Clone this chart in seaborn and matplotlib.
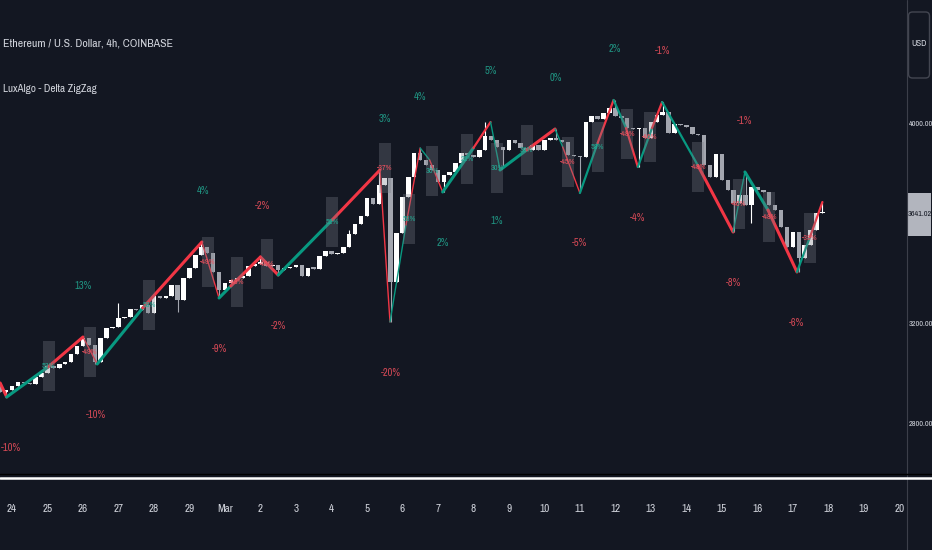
import matplotlib
matplotlib.use("Agg")
import matplotlib.pyplot as plt
import matplotlib.font_manager as fm
from matplotlib.patches import Rectangle, FancyBboxPatch
from matplotlib.lines import Line2D
import numpy as np
import seaborn as sns

# ---- data: ETH/USD 4h candles, first bar two bars before Feb 24 00:00 ----
first_bar = -2
first_open = 2960
closes = [
    2924, 2932, 2948, 2964, 2960, 2956, 2984, 3000, 3028, 3020,
    3036, 3044, 3076, 3108, 3140, 3112, 3044, 3140, 3180, 3184,
    3220, 3224, 3256, 3252, 3272, 3240, 3308, 3300, 3308, 3352,
    3292, 3380, 3420, 3472, 3504, 3480, 3404, 3332, 3360, 3372,
    3380, 3388, 3428, 3436, 3444, 3428, 3432, 3412, 3420, 3424,
    3432, 3388, 3420, 3418, 3468, 3488, 3476, 3480, 3504, 3556,
    3596, 3628, 3700, 3676, 3752, 3780, 3364, 3560, 3704, 3784,
    3880, 3852, 3832, 3812, 3764, 3792, 3804, 3840, 3880, 3872,
    3864, 3892, 3948, 3932, 3904, 3892, 3932, 3920, 3900, 3892,
    3912, 3892, 3932, 3940, 3932, 3924, 3872, 3868, 3864, 4004,
    4028, 4016, 4040, 4060, 4028, 4020, 3980, 3976, 3980, 3940,
    4004, 4032, 4044, 3960, 3996, 3992, 3984, 3956, 3952, 3832,
    3784, 3876, 3772, 3732, 3680, 3712, 3672, 3744, 3732, 3724,
    3672, 3652, 3584, 3504, 3564, 3460, 3512, 3572, 3640, 3641.02,
]
wick_high = {12: 3148, 18: 3280, 32: 3524, 42: 3464, 57: 3572, 62: 3812,
             69: 3900, 80: 4004, 92: 3976, 102: 4092, 110: 4084, 124: 3804, 137: 3684}
wick_low = {-1: 2904, 14: 3036, 28: 3244, 35: 3300, 45: 3392, 64: 3204, 73: 3724,
            83: 3824, 96: 3724, 106: 3824, 122: 3564, 125: 3600, 133: 3404}

# zigzag vertices (bar index, price), sign of delta and strength per segment
zz_i = [-2, -0.9, 6.1, 12, 14.4, 22.1, 32.1, 35, 37, 42, 45, 54.2, 62.2, 63.9, 66.6,
        69, 70.6, 72.8, 78, 80.9, 82.5, 87, 91.8, 93.1, 96, 99, 101.7, 103.8, 105.8,
        108.2, 109.9, 116, 121.9, 123.9, 127.8, 132.7, 134.9, 137]
zz_p = [2960, 2904, 3024, 3144, 3036, 3260, 3524, 3300, 3348, 3464, 3392, 3614, 3812,
        3204, 3592, 3900, 3852, 3724, 3900, 4004, 3812, 3892, 3976, 3904, 3720, 3920,
        4092, 3980, 3824, 3980, 4084, 3828, 3564, 3804, 3652, 3404, 3544, 3684]
seg_sign = [-1, 1, -1, -1, 1, -1, -1, 1, -1, -1, 1, -1, -1, 1, -1, 1, -1, 1, -1,
            1, 1, -1, 1, -1, 1, -1, 1, -1, 1, -1, 1, -1, 1, 1, -1, 1, -1]
seg_strength = [3, 3, 3, 1, 3, 3, 1, 3, 3, 3, 3, 3, 1, 1, 1, 1, 1, 3, 2,
                1, 3, 3, 1, 1, 2, 2, 2, 2, 2, 2, 2, 3, 1, 3, 3, 2, 2]

# delta boxes
box_i = [6.2, 13.2, 23.2, 33.1, 38, 43.1, 54.1, 63, 67.1, 71, 76.9, 82, 87, 94, 99,
         104, 107.8, 116, 122.9, 128, 134.9]
box_p = [3028, 3084, 3272, 3444, 3364, 3436, 3604, 3820, 3616, 3808, 3856, 3820, 3892,
         3844, 3904, 3956, 3944, 3824, 3676, 3624, 3540]
box_txt = ["53%", "-49%", "58%", "-49%", "-48%", "-46%", "52%", "-37%", "58%", "30%",
           "22%", "30%", "36%", "-45%", "58%", "-48%", "-46%", "-48%", "-46%", "-48%", "-38%"]

# swing labels (bar index, pivot price, text, above pivot?)
lab_i = [-0.9, 12, 14.2, 32.3, 35, 42.3, 45, 63, 64, 69, 72.8, 81, 82, 92, 96, 101.9,
         105.8, 109.9, 121.9, 123.9, 132.7]
lab_p = [2904, 3144, 3036, 3524, 3300, 3464, 3392, 3812, 3204, 3900, 3724, 4004, 3812,
         3976, 3724, 4092, 3824, 4084, 3564, 3804, 3404]
lab_txt = ["-10%", "13%", "-10%", "4%", "-9%", "-2%", "-2%", "3%", "-20%", "4%", "2%",
           "5%", "1%", "0%", "-5%", "2%", "-4%", "-1%", "-8%", "-1%", "-6%"]
lab_above = [False, True] * 10 + [False]

day_labels = ["24", "25", "26", "27", "28", "29", "Mar", "2", "3", "4", "5", "6", "7",
              "8", "9", "10", "11", "12", "13", "14", "15", "16", "17", "18", "19", "20"]
price_ticks = [2800, 3200, 4000]
last_price = 3641.02

# ---- style ----
BG = "#131722"
TXT = "#d1d4dc"
UP_LINE, DN_LINE = "#089981", "#f23645"
UP_TXT, DN_TXT = "#22ab94", "#f7525f"

sns.set_theme(style="dark", rc={"axes.facecolor": BG, "figure.facecolor": BG,
                                "savefig.facecolor": BG})
narrow = [f.name for f in fm.fontManager.ttflist if "Narrow" in f.name or "Condensed" in f.name]
plt.rcParams["font.family"] = narrow[:1] + ["DejaVu Sans"]
plt.rcParams["font.stretch"] = "condensed"

W, H = 932, 550
fig = plt.figure(figsize=(W / 100, H / 100), dpi=100)
ax = fig.add_axes([0, (H - 472) / H, 907 / W, 472 / H])
ax.set_facecolor(BG)

# candles
xs = np.arange(len(closes)) + first_bar
cl = np.array(closes, dtype=float)
op = np.r_[first_open, cl[:-1]]
hi = np.maximum(op, cl)
lo = np.minimum(op, cl)
for k, v in wick_high.items():
    hi[k - first_bar] = max(hi[k - first_bar], v)
for k, v in wick_low.items():
    lo[k - first_bar] = min(lo[k - first_bar], v)
col = np.where(cl >= op, "#ffffff", "#a3a6af")
ax.vlines(xs, lo, hi, colors=col, lw=0.8, zorder=2)
ax.bar(xs, np.maximum(np.abs(cl - op), 6), bottom=np.minimum(op, cl), width=0.76,
       color=col, lw=0, zorder=3)

# zigzag
lw_map = {1: 1.0, 2: 1.6, 3: 2.2}
for k in range(len(zz_i) - 1):
    ax.plot(zz_i[k:k + 2], zz_p[k:k + 2], color=UP_LINE if seg_sign[k] > 0 else DN_LINE,
            lw=lw_map[seg_strength[k]], solid_capstyle="round", zorder=4)

# delta boxes
for bi, bp, bt in zip(box_i, box_p, box_txt):
    ax.add_patch(Rectangle((bi - 1.02, bp - 100), 2.05, 200, facecolor="#787b86",
                           alpha=0.32, lw=0, zorder=5))
    ax.text(bi, bp, bt, ha="center", va="center", fontsize=5.8,
            color=DN_TXT if bt.startswith("-") else UP_TXT, zorder=6)

# swing labels
for li, lp, lt, la in zip(lab_i, lab_p, lab_txt, lab_above):
    ax.annotate(lt, (li, lp), xytext=(0, 37 if la else -37), textcoords="offset points",
                ha="center", va="center", fontsize=7.5, alpha=0.85,
                color=DN_TXT if lt.startswith("-") else UP_TXT, annotation_clip=False)
# keep the first label fully inside the left edge
ax.texts[-len(lab_txt)].set_horizontalalignment("left")
ax.texts[-len(lab_txt)].set_position((-4, -37))

ax.set_xlim(-2.03, 151.3)
ax.set_ylim(2604, 4492)
ax.set_xticks(np.arange(len(day_labels)) * 6)
ax.set_xticklabels(day_labels)
ax.tick_params(axis="x", length=0, pad=23, colors=TXT, labelsize=8)
ax.yaxis.tick_right()
ax.set_yticks(price_ticks)
ax.set_yticklabels([f"{v:.2f}" for v in price_ticks])
ax.tick_params(axis="y", length=0, pad=1.2, colors=TXT, labelsize=5.8)
ax.grid(False)
for s in ax.spines.values():
    s.set_visible(False)

# frame lines
fig.add_artist(Line2D([907 / W] * 2, [0, 1], color="#3c3f4a", lw=0.8))
fig.add_artist(Line2D([0, 1], [1 - 474 / H] * 2, color="#000000", lw=1.0))
fig.add_artist(Line2D([0, 1], [1 - 477.5 / H] * 2, color="#ffffff", lw=1.8))

# currency button and last price tag
fig.add_artist(FancyBboxPatch((9.085, (H - 78) / 100), 0.21, 0.66,
                              boxstyle="round,pad=0,rounding_size=0.04",
                              transform=fig.dpi_scale_trans, facecolor=BG,
                              edgecolor="#434651", lw=1))
fig.text(919.5 / W, 1 - 44 / H, "USD", ha="center", va="center", fontsize=6.5, color=TXT)
fig.add_artist(Rectangle((9.075, (H - 236) / 100), 0.235, 0.43, transform=fig.dpi_scale_trans,
                         facecolor="#b2b5be", lw=0))
fig.text(919.5 / W, 1 - 214 / H, f"{last_price:.2f}", ha="center", va="center",
         fontsize=5.8, color=BG)

# legend texts
fig.text(3 / W, 1 - 43 / H, "Ethereum / U.S. Dollar, 4h, COINBASE", ha="left", va="center",
         fontsize=8.5, color=TXT)
fig.text(3 / W, 1 - 89 / H, "LuxAlgo - Delta ZigZag", ha="left", va="center",
         fontsize=8, color=TXT)

fig.savefig("out.png", dpi=100, facecolor=BG)
